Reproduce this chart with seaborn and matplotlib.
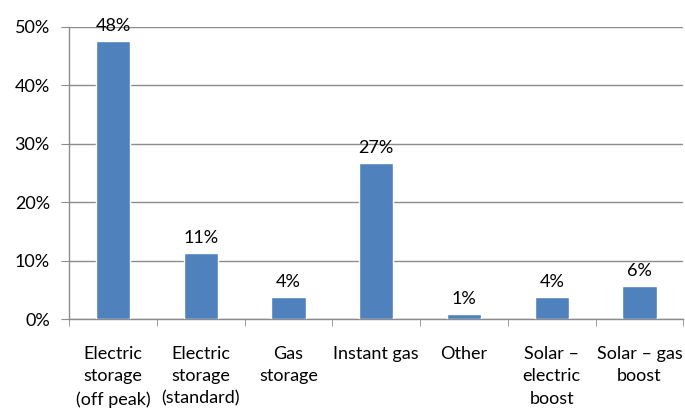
import numpy as np
import pandas as pd
import matplotlib
matplotlib.use("Agg")
import matplotlib.pyplot as plt
import seaborn as sns
from matplotlib.ticker import PercentFormatter

# Water heater types and their share
categories = ["Electric\nstorage\n(off peak)", "Electric\nstorage\n(standard)", "Gas\nstorage",
              "Instant gas", "Other", "Solar \u2013\nelectric\nboost", "Solar \u2013 gas\nboost"]
shares = [47.6, 11.4, 3.8, 26.7, 0.9, 3.8, 5.7]
share_labels = ["48%", "11%", "4%", "27%", "1%", "4%", "6%"]
y_ticks = [0, 10, 20, 30, 40, 50]

sns.set_style("white")
plt.rcParams["font.family"] = ["Lato", "DejaVu Sans"]

df = pd.DataFrame({"type": categories, "share": shares})

fig = plt.figure(figsize=(6.85, 4.08), dpi=100)
ax = fig.add_axes([0.1012, 0.2174, 0.8963, 0.7172])

sns.barplot(data=df, x="type", y="share", color="#4F81BD", saturation=1,
            width=0.39, ax=ax, zorder=3)

for i, (v, lab) in enumerate(zip(shares, share_labels)):
    ax.annotate(lab, (i, v), xytext=(0, 5), textcoords="offset points",
                ha="center", va="bottom", fontsize=13, color="black")

ax.set_ylim(0, 50)
ax.set_xlim(-0.5, len(categories) - 0.5)
ax.set_yticks(y_ticks)
ax.yaxis.set_major_formatter(PercentFormatter(decimals=0))
ax.grid(axis="y", color="#8c8c8c", linewidth=1, zorder=0)
ax.set_axisbelow(True)

# tick marks on category boundaries, labels at centres
ax.set_xticks(np.arange(len(categories)))
ax.set_xticklabels(categories, fontsize=13, linespacing=1.5, color="black")
ax.set_xticks(np.arange(-0.5, len(categories)), minor=True)
ax.tick_params(axis="x", which="major", length=0, pad=19)
ax.tick_params(axis="x", which="minor", length=5, color="#8c8c8c", direction="out", bottom=True)
ax.tick_params(axis="y", length=6, color="#8c8c8c", direction="out", left=True,
               labelsize=13, labelcolor="black", pad=8)

for s in ["top", "right"]:
    ax.spines[s].set_visible(False)
for s in ["left", "bottom"]:
    ax.spines[s].set_color("#8c8c8c")
    ax.spines[s].set_linewidth(1)

ax.set_xlabel("")
ax.set_ylabel("")

fig.savefig("out.png", dpi=100)
